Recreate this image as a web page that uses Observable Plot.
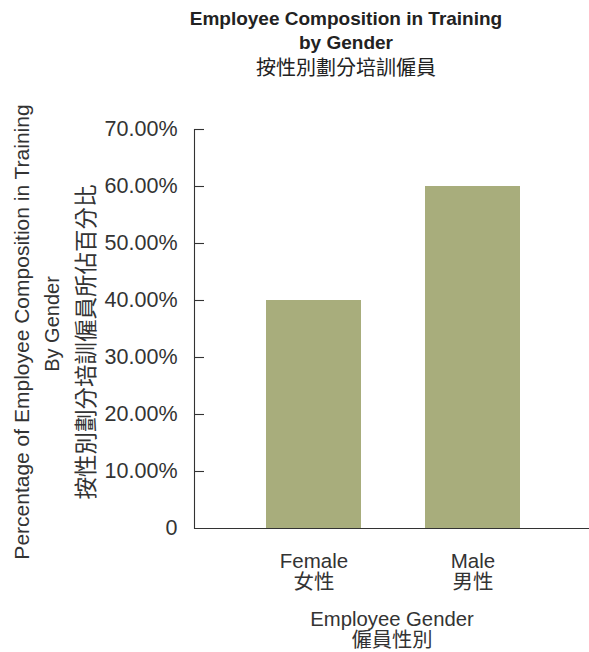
<!DOCTYPE html>
<html>
<head>
<meta charset="utf-8">
<script src="https://cdn.jsdelivr.net/npm/d3@7"></script>
<script src="https://cdn.jsdelivr.net/npm/@observablehq/plot@0.6"></script>
<style>
  body { margin: 0; background: #fff; }
  #wrap { width: 589px; font-family: "Liberation Sans", Arial, "Noto Sans CJK TC", sans-serif; color: #222; }
  #title { box-sizing: border-box; width: 589px; padding-left: 103px; padding-top: 7px; text-align: center; height: 81px; overflow: visible; }
  #title .en { font-weight: bold; font-size: 19px; line-height: 24px; height: 24px; }
  #title .zh { font-size: 20px; line-height: 24px; height: 24px; font-family: "Noto Sans CJK TC", sans-serif; }
  #chart svg { overflow: visible; display: block; }
</style>
</head>
<body>
<div id="wrap">
  <div id="title">
    <div class="en">Employee Composition in Training</div>
    <div class="en">by Gender</div>
    <div class="zh">按性別劃分培訓僱員</div>
  </div>
  <div id="chart"></div>
</div>
<script>
const genders = ["Female", "Male"];
const gendersZh = ["女性", "男性"];
const shares = [40, 60];
const yTicks = [0, 10, 20, 30, 40, 50, 60, 70];
const yLabelLines = ["Percentage of Employee Composition in Training", "By Gender", "按性別劃分培訓僱員所佔百分比"];
const xLabelLines = ["Employee Gender", "僱員性別"];

const data = genders.map((g, i) => ({gender: g, zh: gendersZh[i], share: shares[i]}));

const font = "'Liberation Sans', Arial, 'Noto Sans CJK TC', sans-serif";
const cjk = "'Noto Sans CJK TC', sans-serif";
const ink = "#333";

const chart = Plot.plot({
  width: 589,
  height: 571,
  marginTop: 48,
  marginBottom: 124,
  marginLeft: 194,
  marginRight: 0,
  style: {fontFamily: font, color: ink, background: "#fff", overflow: "visible"},
  x: {domain: genders, range: [201, 585], paddingInner: 0.4, paddingOuter: 0.4, axis: null},
  y: {domain: [0, 70], axis: null},
  marks: [
    Plot.barY(data, {x: "gender", y: "share", fill: "#a8ad7c"}),
    Plot.frame({anchor: "left", stroke: ink, strokeWidth: 1.1}),
    Plot.ruleY([0], {stroke: ink, strokeWidth: 1.1}),
    Plot.tickY(yTicks.filter(d => d > 0), {y: d => d, stroke: ink, strokeWidth: 1.1, insetRight: 385}),
    Plot.axisY({ticks: yTicks, tickSize: 0, tickPadding: 17, fontSize: 21.5, fill: ink, label: null,
      tickFormat: d => d === 0 ? "0" : d.toFixed(2) + "%"}),
    // x tick labels (English + Chinese, two lines)
    Plot.text(data, {x: "gender", text: d => d.gender + "\n" + d.zh, frameAnchor: "bottom", lineAnchor: "top",
      dy: 24, fontSize: 20.5, lineHeight: 1.04, fill: ink}),
    // x axis title (two lines)
    Plot.text([xLabelLines.join("\n")], {text: d => d, frameAnchor: "bottom", lineAnchor: "top", dy: 82,
      fontSize: 20.3, lineHeight: 1.04, fill: ink}),
    // y axis title (three rotated lines)
    Plot.text([yLabelLines[0]], {text: d => d, frameAnchor: "left", textAnchor: "middle", rotate: -90, dx: -172, dy: 3, fontSize: 21, fill: ink}),
    Plot.text([yLabelLines[1]], {text: d => d, frameAnchor: "left", textAnchor: "middle", rotate: -90, dx: -142, dy: -5, fontSize: 20, fill: ink}),
    Plot.text([yLabelLines[2]], {text: d => d, frameAnchor: "left", textAnchor: "middle", rotate: -90, dx: -108, dy: 13, fontSize: 22.5, fontFamily: cjk, fill: ink})
  ]
});
document.getElementById("chart").appendChild(chart);
</script>
</body>
</html>
